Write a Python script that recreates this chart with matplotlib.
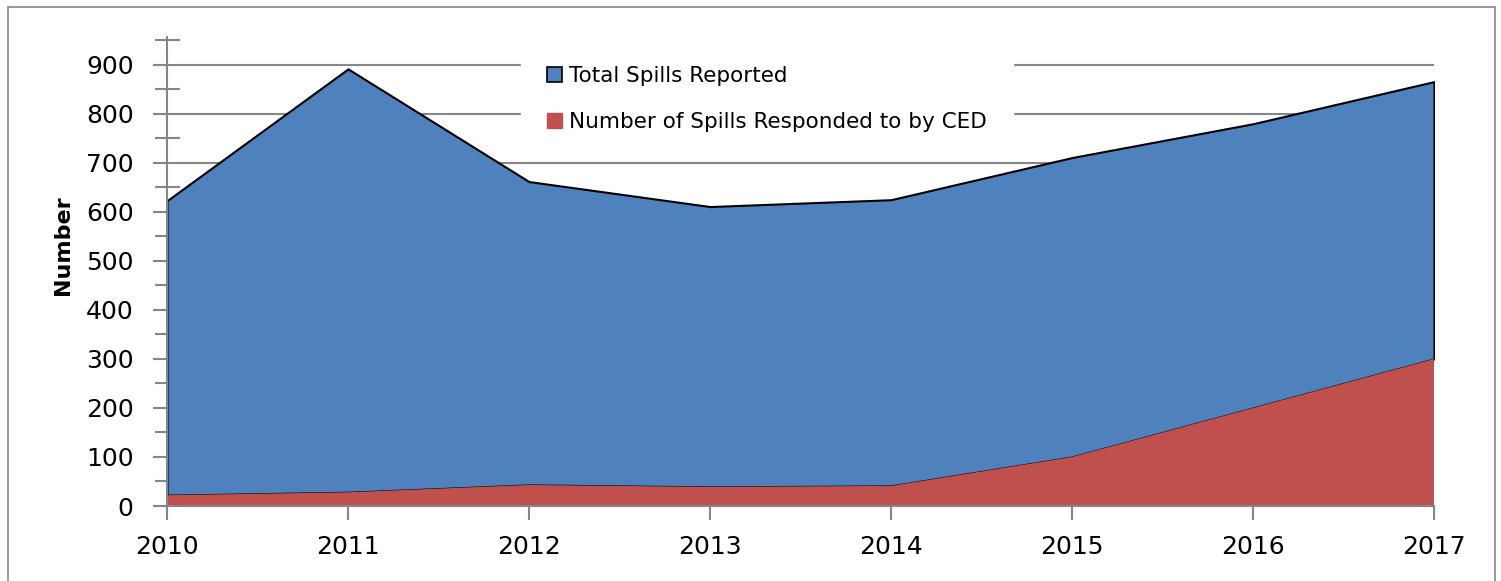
import matplotlib.pyplot as plt
import matplotlib.patches as mpatches
from matplotlib.ticker import MultipleLocator

# data
years = [2010, 2011, 2012, 2013, 2014, 2015, 2016, 2017]
total_spills = [623, 892, 662, 611, 625, 711, 780, 866]
ced_responded = [22, 28, 43, 39, 41, 100, 200, 300]

blue = "#4F81BD"
red = "#C0504D"
grey = "#868686"

plt.rcParams["font.family"] = ["DejaVu Sans"]

fig = plt.figure(figsize=(15.01, 5.81), dpi=100)
ax = fig.add_axes([167 / 1501, 1 - 506 / 581, (1434 - 167) / 1501, (506 - 37) / 581])

# red at the bottom, blue sitting on top of it
ax.fill_between(years, ced_responded, total_spills, facecolor=blue,
                edgecolor="black", linewidth=1.5, zorder=2)
ax.fill_between(years, 0, ced_responded, facecolor=red, linewidth=0, zorder=2)

# gridlines only up to the last category
for v in range(100, 1000, 100):
    ax.plot([years[0], years[-1]], [v, v], color=grey, lw=1.5, zorder=1)

ax.set_xlim(years[0], years[-1])
ax.set_ylim(0, 957)
ax.set_xticks(years)
ax.set_xticklabels([str(y) for y in years], fontsize=18)
ax.set_yticks(range(0, 1000, 100))
ax.yaxis.set_minor_locator(MultipleLocator(50))
ax.tick_params(axis="y", which="major", direction="out", length=10, width=1.5,
               color=grey, labelsize=18, pad=14)
ax.tick_params(axis="y", which="minor", direction="inout", length=18, width=1.5, color=grey)
ax.tick_params(axis="x", direction="out", length=10, width=1.5, color=grey,
               labelsize=18, pad=11)

for side in ["top", "right"]:
    ax.spines[side].set_visible(False)
for side in ["left", "bottom"]:
    ax.spines[side].set_color(grey)
    ax.spines[side].set_linewidth(1.5)
    ax.spines[side].set_zorder(3)

ax.set_ylabel("Number", fontsize=16, fontweight="bold")
ax.yaxis.set_label_coords(-0.082, 0.556)
ax.yaxis.label.set_verticalalignment("center")

handles = [
    mpatches.Patch(facecolor=blue, edgecolor="black", linewidth=1.2, label="Total Spills Reported"),
    mpatches.Patch(facecolor=red, edgecolor=red, label="Number of Spills Responded to by CED"),
]
leg = ax.legend(handles=handles, loc="upper left", bbox_to_anchor=(521 / 1501, 1 - 40 / 581),
                bbox_transform=fig.transFigure, frameon=True, fontsize=15.5,
                handlelength=0.7, handleheight=0.7, handletextpad=0.35,
                labelspacing=1.23, borderpad=1.2, borderaxespad=0.0)
leg.get_frame().set_facecolor("white")
leg.get_frame().set_edgecolor("white")
leg.get_frame().set_alpha(1)
leg.get_frame().set_boxstyle("square", pad=0)
leg.set_zorder(4)

# outer chart border
fig.patches.append(mpatches.Rectangle((8 / 1501, -0.01), (1495 - 8) / 1501, 1.01 - 7 / 581,
                                      transform=fig.transFigure, fill=False,
                                      edgecolor=grey, linewidth=1.2))

fig.savefig("out.png", dpi=100)
